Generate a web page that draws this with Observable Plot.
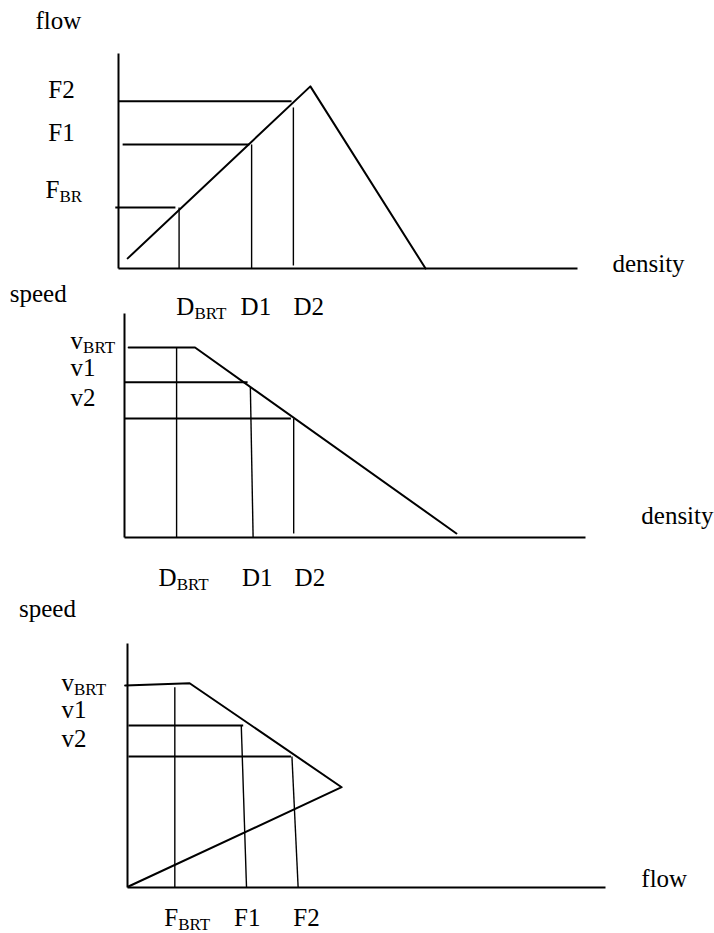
<!DOCTYPE html>
<html><head><meta charset="utf-8">
<script src="https://cdn.jsdelivr.net/npm/d3@7"></script>
<script src="https://cdn.jsdelivr.net/npm/@observablehq/plot@0.6"></script>
<style>
body{margin:0;background:#fff}
#chart{position:relative;width:714px;height:933px}
#chart svg{position:absolute;left:0;top:0}
#chart svg text, #chart svg tspan{font-family:"Liberation Serif","Times New Roman",serif !important}
</style>
</head><body><div id="chart"></div>
<script>
// ---------- Panel 1: flow vs density (abstract units 0..100) ----------
const fdCurve = [[2.0, 4.7], [41.8, 84.7], [66.9, 0]];            // [density, flow]
const fdFlowGuides = [{v: 28.4, from: -0.7, to: 12.4}, {v: 57.7, from: 0.9, to: 28.5}, {v: 77.8, from: 0, to: 37.7}];
const fdDensityGuides = [[13.2, 0, 13.2, 28.4], [29.0, 0, 29.0, 57.7], [38.1, 1.4, 38.1, 74.9]];
const fdFlowLabels = ["F_BR", "F1", "F2"];
const fdFlowLabelPos = [[-15.9, 36.7], [-15.3, 63.0], [-15.3, 82.8]];
const fdDensityLabels = ["D_BRT", "D1", "D2"];
const fdDensityLabelPos = [[12.6, -17.8], [26.6, -17.8], [38.1, -17.8]];
const fdTitles = ["flow", "density"];
const fdTitlePos = [[-18.1, 115.2], [107.6, 2.2]];

// ---------- Panel 2: speed vs density ----------
const sdCurve = [[0.9, 84.8], [15.3, 84.8], [72.0, 1.8]];           // [density, speed]
const sdSpeedGuides = [{v: 69.3, from: 0, to: 26.7}, {v: 53.1, from: 0, to: 36.1}];
const sdDensityGuides = [[11.3, 0, 11.3, 84.8], [27.9, 0, 27.3, 67.1], [36.7, 1.8, 36.7, 53.1]];
const sdSpeedLabels = ["v_BRT", "v1", "v2"];
const sdSpeedLabelPos = [[-11.7, 87.7], [-11.7, 75.8], [-11.7, 62.4]];
const sdDensityLabels = ["D_BRT", "D1", "D2"];
const sdDensityLabelPos = [[7.4, -18.0], [25.5, -18.0], [36.9, -18.0]];
const sdTitles = ["speed", "density"];
const sdTitlePos = [[-24.9, 108.8], [112.1, 9.6]];

// ---------- Panel 3: speed vs flow ----------
const sfCurve = [[-0.5, 82.8], [13.0, 83.7], [44.8, 41.1], [0.2, 0.4]];  // [flow, speed]
const sfSpeedGuides = [{v: 66.4, from: 0.2, to: 24.2}, {v: 53.7, from: 0.2, to: 34.2}];
const sfFlowGuides = [[9.9, 0, 9.9, 82.1], [24.9, 0, 23.8, 66.4], [35.7, 0, 34.4, 53.7]];
const sfSpeedLabels = ["v_BRT", "v1", "v2"];
const sfSpeedLabelPos = [[-13.8, 83.9], [-13.8, 72.9], [-13.8, 60.7]];
const sfFlowLabels = ["F_BRT", "F1", "F2"];
const sfFlowLabelPos = [[7.7, -12.4], [22.3, -12.4], [34.7, -12.4]];
const sfTitles = ["speed", "flow"];
const sfTitlePos = [[-22.7, 114.2], [107.5, 3.3]];

const FONT = "'Liberation Serif', 'Times New Roman', serif";

function labelRows(names, pos) { return names.map((t, i) => ({t, x: pos[i][0], y: pos[i][1]})); }

function panel(cfg) {
  const labels = [
    ...labelRows(cfg.yLabels, cfg.yLabelPos),
    ...labelRows(cfg.xLabels, cfg.xLabelPos),
    ...labelRows(cfg.titles, cfg.titlePos)
  ];
  const svg = Plot.plot({
    width: 714, height: 933,
    x: {domain: [0, 100], range: cfg.xRange, axis: null},
    y: {domain: [0, 100], range: cfg.yRange, axis: null},
    style: {background: "transparent", fontFamily: FONT, fontSize: "25px", color: "black", overflow: "visible"},
    marks: [
      Plot.link([[0, 0, 0, 100], [0, 0, 100, 0]], {x1: d => d[0], y1: d => d[1], x2: d => d[2], y2: d => d[3], stroke: "black", strokeWidth: 2}),
      Plot.line(cfg.curve, {x: d => d[0], y: d => d[1], stroke: "black", strokeWidth: 2}),
      Plot.link(cfg.hGuides, {x1: "from", x2: "to", y1: "v", y2: "v", stroke: "black", strokeWidth: 2}),
      Plot.link(cfg.vGuides, {x1: d => d[0], y1: d => d[1], x2: d => d[2], y2: d => d[3], stroke: "black", strokeWidth: 1.4}),
      Plot.text(labels, {x: "x", y: "y", text: "t", textAnchor: "start", lineAnchor: "middle", fontSize: 25, fontFamily: FONT, fill: "black"})
    ]
  });
  // render "_" as a subscript
  svg.querySelectorAll("text").forEach(t => {
    const s = t.textContent, i = s.indexOf("_");
    if (i < 0) return;
    t.textContent = s.slice(0, i);
    const sub = document.createElementNS("http://www.w3.org/2000/svg", "tspan");
    sub.setAttribute("font-size", "17");
    sub.setAttribute("dy", "4");
    sub.textContent = s.slice(i + 1);
    t.appendChild(sub);
  });
  document.getElementById("chart").appendChild(svg);
}

panel({xRange: [118, 577], yRange: [268, 53], curve: fdCurve, hGuides: fdFlowGuides, vGuides: fdDensityGuides,
  yLabels: fdFlowLabels, yLabelPos: fdFlowLabelPos, xLabels: fdDensityLabels, xLabelPos: fdDensityLabelPos, titles: fdTitles, titlePos: fdTitlePos});
panel({xRange: [124, 585], yRange: [537, 313], curve: sdCurve, hGuides: sdSpeedGuides, vGuides: sdDensityGuides,
  yLabels: sdSpeedLabels, yLabelPos: sdSpeedLabelPos, xLabels: sdDensityLabels, xLabelPos: sdDensityLabelPos, titles: sdTitles, titlePos: sdTitlePos});
panel({xRange: [127, 605], yRange: [887, 643], curve: sfCurve, hGuides: sfSpeedGuides, vGuides: sfFlowGuides,
  yLabels: sfSpeedLabels, yLabelPos: sfSpeedLabelPos, xLabels: sfFlowLabels, xLabelPos: sfFlowLabelPos, titles: sfTitles, titlePos: sfTitlePos});
</script></body></html>
